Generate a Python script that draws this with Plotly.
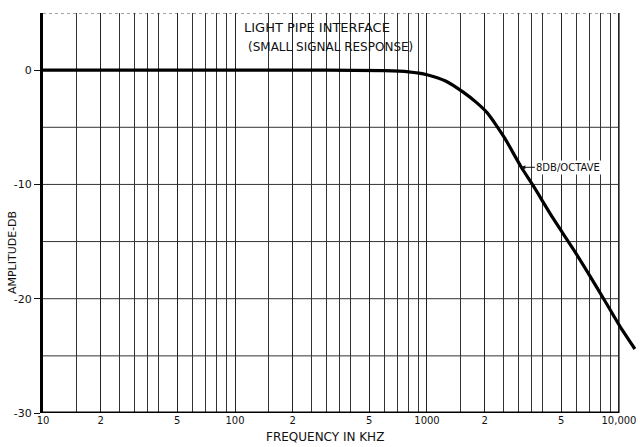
import math
import plotly.graph_objects as go

# ---- data ----
freq_khz = [10, 100, 300, 600, 800, 1000, 1250, 1550, 1800, 2050, 2300, 2550,
            3100, 3600, 4550, 5800, 7050, 8450, 10100, 12100]
amplitude_db = [0, 0, 0, -0.05, -0.15, -0.4, -0.95, -1.95, -2.8, -3.7, -4.85, -6.0,
                -8.5, -10.2, -13.0, -15.7, -18.0, -20.2, -22.4, -24.4]

x_major_ticks = [10, 20, 50, 100, 200, 500, 1000, 2000, 5000, 10000]
x_major_text = ["10", "2", "5", "100", "2", "5", "1000", "2", "5", "10,000"]
x_minor_mults = [1.5, 2.5, 3, 3.5, 4, 6, 7, 8, 9]
y_ticks = [0, -10, -20, -30]
y_ticktext = ["0", "-10", "-20", "-30"]
y_grid = [-25, -20, -15, -10, -5]

title1 = "LIGHT PIPE INTERFACE"
title2 = "(SMALL SIGNAL RESPONSE)"
slope_label = "8DB/OCTAVE"
slope_point_index = 12

X_LOG_MIN, X_LOG_MAX = 1.0, 4.099
Y_MIN, Y_MAX = -30, 5
PAPER_END = (4 - X_LOG_MIN) / (X_LOG_MAX - X_LOG_MIN)  # x=10000 in paper units

minor_vals = [m * d for d in (10, 100, 1000) for m in x_minor_mults]

FONT = "DejaVu Sans"
INK = "#111111"

fig = go.Figure()
fig.add_trace(go.Scatter(
    x=freq_khz, y=amplitude_db, mode="lines",
    line=dict(color="black", width=3.2, shape="spline", smoothing=0.6),
    showlegend=False, hoverinfo="skip"))

shapes = []
for yv in y_grid:
    shapes.append(dict(type="line", xref="paper", yref="y", x0=0, x1=PAPER_END,
                       y0=yv, y1=yv, line=dict(color="#333333", width=1), layer="below"))
# top dotted edge of graph paper
shapes.append(dict(type="line", xref="paper", yref="y", x0=0, x1=PAPER_END,
                   y0=Y_MAX, y1=Y_MAX, line=dict(color="#444444", width=1, dash="dot"),
                   layer="below"))
# right edge at 10,000
shapes.append(dict(type="line", xref="paper", yref="y", x0=PAPER_END, x1=PAPER_END,
                   y0=Y_MIN, y1=Y_MAX, line=dict(color="#222222", width=1.3), layer="below"))
# heavy bottom edge
shapes.append(dict(type="line", xref="paper", yref="y", x0=0, x1=PAPER_END,
                   y0=Y_MIN, y1=Y_MIN, line=dict(color="black", width=3)))

annotations = [
    dict(text=title1, xref="paper", yref="paper", x=0.334, y=0.9625,
         xanchor="left", yanchor="middle", showarrow=False,
         font=dict(family=FONT, size=13, color=INK)),
    dict(text=title2, xref="paper", yref="paper", x=0.341, y=0.915,
         xanchor="left", yanchor="middle", showarrow=False,
         font=dict(family=FONT, size=12, color=INK)),
    dict(text=slope_label, xref="x", yref="y",
         x=math.log10(freq_khz[slope_point_index]), y=amplitude_db[slope_point_index],
         ax=47, ay=0, showarrow=True, arrowhead=2, arrowsize=0.8, arrowwidth=1,
         arrowcolor=INK, bgcolor="white",
         font=dict(family=FONT, size=10, color=INK)),
    dict(text="FREQUENCY IN KHZ", xref="paper", yref="paper", x=0.474, y=-0.06,
         xanchor="center", yanchor="middle", showarrow=False,
         font=dict(family=FONT, size=12, color=INK)),
    dict(text="AMPLITUDE-DB", xref="paper", yref="paper", x=-0.052, y=0.40,
         xanchor="center", yanchor="middle", showarrow=False, textangle=-90,
         font=dict(family=FONT, size=11, color=INK)),
]

fig.update_layout(
    width=640, height=447,
    margin=dict(l=43, r=2, t=13, b=34),
    paper_bgcolor="white", plot_bgcolor="white",
    shapes=shapes, annotations=annotations,
    font=dict(family=FONT, color=INK),
    xaxis=dict(
        type="log", range=[X_LOG_MIN, X_LOG_MAX],
        tickmode="array", tickvals=x_major_ticks, ticktext=x_major_text,
        tickfont=dict(family=FONT, size=10, color=INK),
        ticks="", showline=False, zeroline=False,
        showgrid=True, gridcolor="#222222", gridwidth=1.2,
        minor=dict(tickvals=minor_vals, showgrid=True, gridcolor="#333333",
                   gridwidth=1, ticks=""),
    ),
    yaxis=dict(
        range=[Y_MIN, Y_MAX], tickmode="array", tickvals=y_ticks, ticktext=y_ticktext,
        tickfont=dict(family=FONT, size=11, color=INK),
        ticks="outside", ticklen=6, tickcolor=INK, tickwidth=1,
        showgrid=False, zeroline=False,
        showline=True, linecolor="black", linewidth=3,
    ),
)

fig.write_html("out.html")
